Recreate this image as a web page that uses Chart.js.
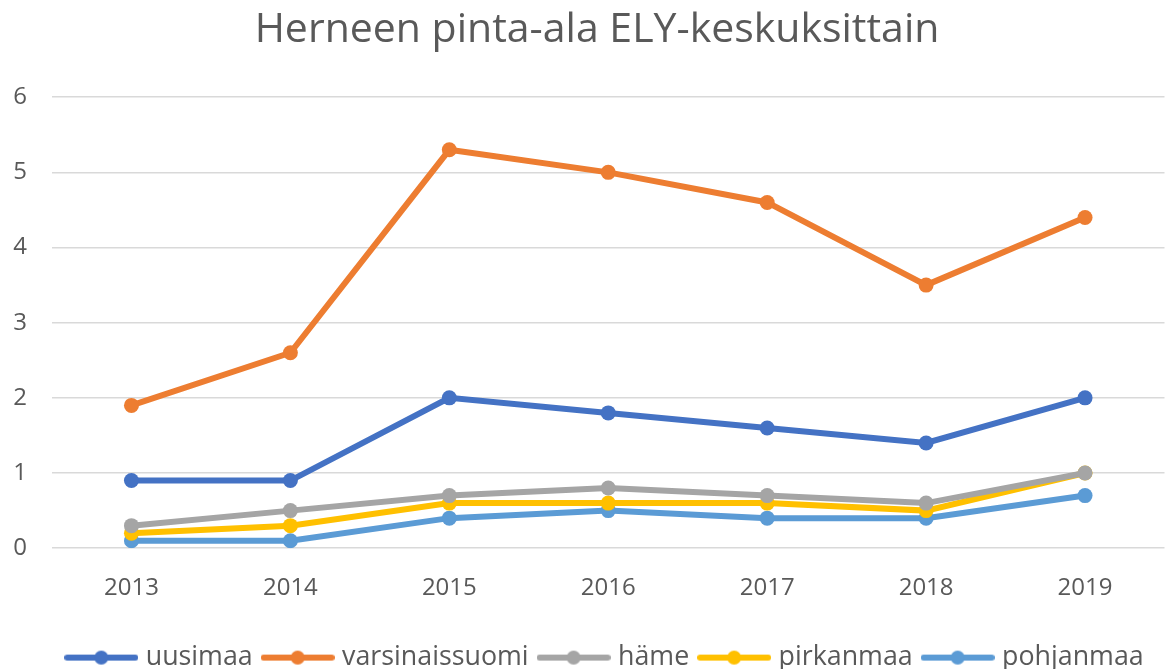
<!DOCTYPE html>
<html>
<head>
<meta charset="utf-8">
<script src="https://cdn.jsdelivr.net/npm/chart.js@4/dist/chart.umd.min.js"></script>
<style>
    html, body { margin: 0; padding: 0; background: #fff; }
    #wrap { width: 1172px; height: 669px; }
</style>
</head>
<body>
<div id="wrap"><canvas id="myChart"></canvas></div>
<script>
const years = ['2013', '2014', '2015', '2016', '2017', '2018', '2019'];
const uusimaa = [0.9, 0.9, 2.0, 1.8, 1.6, 1.4, 2.0];
const varsinaissuomi = [1.9, 2.6, 5.3, 5.0, 4.6, 3.5, 4.4];
const hame = [0.3, 0.5, 0.7, 0.8, 0.7, 0.6, 1.0];
const pirkanmaa = [0.2, 0.3, 0.6, 0.6, 0.6, 0.5, 1.0];
const pohjanmaa = [0.1, 0.1, 0.4, 0.5, 0.4, 0.4, 0.7];

const FONT = "'Open Sans', 'Noto Sans', sans-serif";
const TEXT_COLOR = '#595959';

// legend marker: line with a dot in the middle (a bit wider than the legend box)
function legendMarker (color) {
    const c = document.createElement('canvas');
    c.width = 74;
    c.height = 16;
    const ctx = c.getContext('2d');
    ctx.strokeStyle = color;
    ctx.lineWidth = 6;
    ctx.lineCap = 'round';
    ctx.beginPath();
    ctx.moveTo(3, 8);
    ctx.lineTo(71, 8);
    ctx.stroke();
    ctx.fillStyle = color;
    ctx.beginPath();
    ctx.arc(37, 8, 7, 0, Math.PI * 2);
    ctx.fill();
    return c;
}

function series (label, data, color) {
    return {
        label: label,
        data: data,
        borderColor: color,
        backgroundColor: color,
        borderWidth: 6,
        pointRadius: 7.5,
        pointHoverRadius: 7.5,
        pointBorderWidth: 0,
        tension: 0,
        marker: legendMarker(color)
    };
}

// the original has title and legend a little right of the canvas centre
const nudgeBlocks = {
    id: 'nudgeBlocks',
    afterLayout (chart) {
        chart.titleBlock.left += 12;
        chart.titleBlock.right += 12;
        chart.legend.left += 22;
        chart.legend.right += 22;
    }
};

new Chart(document.getElementById('myChart'), {
    type: 'line',
    data: {
        labels: years,
        datasets: [
            series('uusimaa', uusimaa, '#4472C4'),
            series('varsinaissuomi', varsinaissuomi, '#ED7D31'),
            series('häme', hame, '#A5A5A5'),
            series('pirkanmaa', pirkanmaa, '#FFC000'),
            series('pohjanmaa', pohjanmaa, '#5B9BD5')
        ]
    },
    options: {
        responsive: true,
        maintainAspectRatio: false,
        animation: false,
        layout: {
            padding: { left: 0, right: 2, top: 0, bottom: -12 }
        },
        scales: {
            x: {
                offset: true,
                grid: { display: false },
                border: { display: false },
                afterFit: (scale) => { scale.height = 82; },
                ticks: {
                    color: TEXT_COLOR,
                    font: { family: FONT, size: 24 },
                    padding: 18
                }
            },
            y: {
                min: 0,
                max: 6,
                grid: { color: '#d9d9d9', lineWidth: 1.5, drawTicks: false },
                border: { display: false },
                afterFit: (scale) => { scale.width = 52; },
                ticks: {
                    stepSize: 1,
                    color: TEXT_COLOR,
                    font: { family: FONT, size: 24 },
                    padding: 25
                }
            }
        },
        plugins: {
            title: {
                display: true,
                text: 'Herneen pinta-ala ELY-keskuksittain',
                color: TEXT_COLOR,
                font: { family: FONT, size: 41, weight: 'normal' },
                padding: { top: 6, bottom: 42 }
            },
            legend: {
                position: 'bottom',
                labels: {
                    usePointStyle: true,
                    pointStyleWidth: 62,
                    boxHeight: 16,
                    color: TEXT_COLOR,
                    font: { family: FONT, size: 26.8 },
                    padding: 14,
                    generateLabels: function (chart) {
                        return chart.data.datasets.map((ds, i) => ({
                            text: ds.label,
                            fillStyle: ds.borderColor,
                            strokeStyle: ds.borderColor,
                            fontColor: TEXT_COLOR,
                            lineWidth: 0,
                            pointStyle: ds.marker,
                            hidden: !chart.isDatasetVisible(i),
                            datasetIndex: i
                        }));
                    }
                }
            },
            tooltip: { enabled: false }
        }
    },
    plugins: [nudgeBlocks]
});
</script>
</body>
</html>
